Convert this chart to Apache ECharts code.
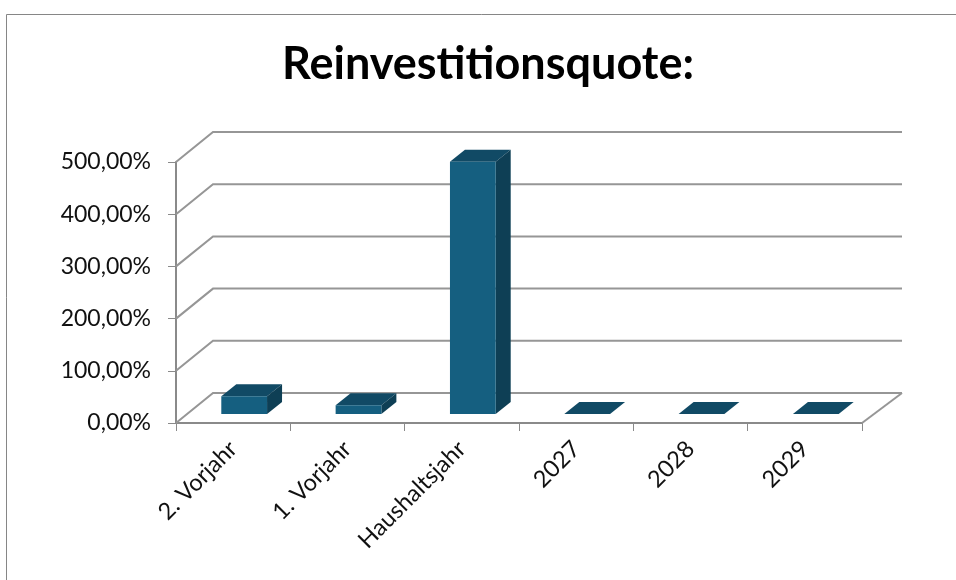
<!DOCTYPE html>
<html>
<head>
<meta charset="utf-8">
<title>Reinvestitionsquote</title>
<style>
  html, body { margin: 0; padding: 0; background: #fff; }
  #chart { width: 956px; height: 580px; }
</style>
<script src="https://cdn.jsdelivr.net/npm/echarts@6/dist/echarts.min.js"></script>
</head>
<body>
<div id="chart"></div>
<script>
const categories = ['2. Vorjahr', '1. Vorjahr', 'Haushaltsjahr', '2027', '2028', '2029']
const quote = [34, 17, 483, 0, 0, 0]
const yTicks = [0, 100, 200, 300, 400, 500]

// fake 3D offsets, in pixels
const WALL_DX = 37
const WALL_DY = 30
const BAR_SHIFT_X = 11
const BAR_SHIFT_Y = 9
const BAR_DX = 15
const BAR_DY = 12

const gridColor = '#969696'
const axisColor = '#8a8a8a'
const labelColor = '#111'
const fontFamily = 'Lato, "Open Sans", sans-serif'

function renderWall(params, api) {
  const cs = params.coordSys
  const y = api.coord([0, api.value(1)])[1]
  const x0 = cs.x
  const x1 = cs.x + cs.width
  const lineStyle = { stroke: gridColor, lineWidth: 2, fill: null }
  const children = [{
    type: 'polyline',
    shape: { points: [[x0, y], [x0 + WALL_DX, y - WALL_DY], [x1 + WALL_DX + 3, y - WALL_DY]] },
    style: lineStyle
  }]
  // floor closes on the right side
  if (api.value(1) === 0) {
    children.push({
      type: 'line',
      shape: { x1: x1, y1: y, x2: x1 + WALL_DX + 3, y2: y - WALL_DY },
      style: lineStyle
    })
  }
  return { type: 'group', children }
}

function renderBar(params, api) {
  const top = api.coord([api.value(0), api.value(1)])
  const base = api.coord([api.value(0), 0])
  const w = api.size([1, 0])[0] * 0.4
  const l = top[0] + BAR_SHIFT_X - w / 2
  const r = l + w
  const t = top[1] - BAR_SHIFT_Y
  const b = base[1] - BAR_SHIFT_Y
  return {
    type: 'group',
    children: [
      {
        type: 'polygon',
        shape: { points: [[l, t], [r, t], [r + BAR_DX, t - BAR_DY], [l + BAR_DX, t - BAR_DY]] },
        style: { fill: '#114a65' }
      },
      {
        type: 'polygon',
        shape: { points: [[r, t], [r + BAR_DX, t - BAR_DY], [r + BAR_DX, b - BAR_DY], [r, b]] },
        style: { fill: '#0e3f55' }
      },
      {
        type: 'rect',
        shape: { x: l, y: t, width: w, height: b - t },
        style: { fill: '#155f80' }
      }
    ]
  }
}

const chart = echarts.init(document.getElementById('chart'))

chart.setOption({
  animation: false,
  backgroundColor: '#fff',
  title: {
    text: 'Reinvestitionsquote:',
    left: 483,
    top: 37,
    textAlign: 'center',
    textStyle: { color: '#000', fontSize: 45, fontWeight: 'bold', fontFamily }
  },
  grid: { left: 176, right: 94, top: 162, bottom: 157 },
  xAxis: {
    type: 'category',
    data: categories,
    axisLine: { lineStyle: { color: axisColor, width: 2 } },
    axisTick: { show: true, alignWithLabel: false, length: 8, lineStyle: { color: axisColor, width: 1 } },
    axisLabel: { color: labelColor, fontSize: 23.5, fontFamily, rotate: 45, margin: 22, interval: 0 }
  },
  yAxis: {
    type: 'value',
    min: 0,
    max: 500,
    interval: 100,
    splitLine: { show: false },
    axisLine: { show: true, lineStyle: { color: axisColor, width: 2 } },
    axisTick: { show: true, length: 8, lineStyle: { color: axisColor, width: 1 } },
    axisLabel: {
      color: labelColor,
      fontSize: 23,
      fontFamily,
      margin: 25,
      padding: [3, 0, 0, 0],
      formatter: (v) => v.toFixed(2).replace('.', ',') + '%'
    }
  },
  series: [
    {
      type: 'custom',
      name: 'Wand',
      renderItem: renderWall,
      encode: { x: 0, y: 1 },
      data: yTicks.map((v) => [0, v]),
      z: 1,
      silent: true
    },
    {
      type: 'custom',
      name: 'Reinvestitionsquote',
      renderItem: renderBar,
      encode: { x: 0, y: 1 },
      data: quote.map((v, i) => [i, v]),
      z: 3
    }
  ],
  graphic: [{
    type: 'polyline',
    silent: true,
    shape: { points: [[6.5, 580], [6.5, 14.5], [956, 14.5]] },
    style: { stroke: '#868686', lineWidth: 1, fill: null }
  }]
})

window.addEventListener('resize', () => chart.resize())
</script>
</body>
</html>
